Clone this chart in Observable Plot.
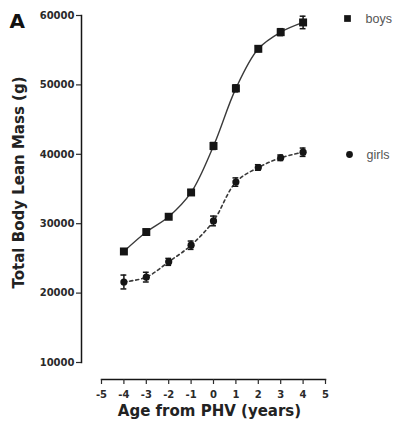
<!DOCTYPE html>
<html>
<head>
<meta charset="utf-8">
<script src="https://cdn.jsdelivr.net/npm/d3@7"></script>
<script src="https://cdn.jsdelivr.net/npm/@observablehq/plot@0.6"></script>
<style>
  html, body { margin: 0; padding: 0; background: #fff; }
</style>
</head>
<body>
<div id="chart"></div>
<script>
const ages = [-4, -3, -2, -1, 0, 1, 2, 3, 4];
const boysMean = [26000, 28800, 31000, 34500, 41200, 49500, 55200, 57600, 59000];
const boysErr  = [300, 300, 300, 400, 500, 500, 400, 500, 900];
const girlsMean = [21600, 22300, 24500, 26900, 30400, 36000, 38100, 39500, 40300];
const girlsErr  = [1000, 700, 500, 600, 700, 600, 400, 400, 600];
const xTicks = [-5, -4, -3, -2, -1, 0, 1, 2, 3, 4, 5];
const yTicks = [10000, 20000, 30000, 40000, 50000, 60000];
const seriesNames = ["boys", "girls"];

const boys = ages.map((a, i) => ({age: a, v: boysMean[i], e: boysErr[i]}));
const girls = ages.map((a, i) => ({age: a, v: girlsMean[i], e: girlsErr[i]}));

const ink = "#151515";
const lineInk = "#3a3a3a";
const fontW = "bold";

function errorMarks(data) {
  return [
    Plot.ruleX(data, {x: "age", y1: d => d.v - d.e, y2: d => d.v + d.e, stroke: ink, strokeWidth: 1.5}),
    Plot.ruleY(data, {y: d => d.v + d.e, x1: d => d.age - 0.13, x2: d => d.age + 0.13, stroke: ink, strokeWidth: 1.5}),
    Plot.ruleY(data, {y: d => d.v - d.e, x1: d => d.age - 0.13, x2: d => d.age + 0.13, stroke: ink, strokeWidth: 1.5})
  ];
}

const chart = Plot.plot({
  width: 395,
  height: 429,
  marginLeft: 81,
  marginTop: 15,
  marginBottom: 50,
  marginRight: 0,
  style: {fontFamily: "'DejaVu Sans', sans-serif", fontSize: "10px", color: "#2a2a2a", background: "#fff"},
  x: {domain: [-5, 5], range: [101, 325]},
  y: {domain: [10000, 60000], range: [362, 15]},
  marks: [
    // axis lines (offset, Prism style)
    Plot.frame({anchor: "left", insetBottom: 17, stroke: ink, strokeWidth: 1.5}),
    Plot.frame({anchor: "bottom", insetLeft: 20, insetRight: 70, stroke: ink, strokeWidth: 1.5}),
    Plot.axisY({ticks: yTicks, tickSize: 5, tickPadding: 2, tickFormat: d3.format("d"), label: null, fontWeight: fontW, strokeWidth: 1.2}),
    Plot.axisX({ticks: xTicks, tickSize: 5, tickPadding: 6, tickFormat: d => d < 0 ? "-" + Math.abs(d) : String(d), label: null, fontWeight: fontW, strokeWidth: 1.2}),
    // lines
    Plot.line(boys, {x: "age", y: "v", curve: "catmull-rom", stroke: lineInk, strokeWidth: 1.4}),
    Plot.line(girls, {x: "age", y: "v", curve: "catmull-rom", stroke: lineInk, strokeWidth: 1.6, strokeDasharray: "3,3"}),
    ...errorMarks(boys),
    ...errorMarks(girls),
    Plot.dot(boys, {x: "age", y: "v", symbol: "square", r: 4.5, fill: ink, stroke: "none"}),
    Plot.dot(girls, {x: "age", y: "v", symbol: "circle", r: 3.6, fill: ink, stroke: "none"}),
    // legend
    Plot.dot([seriesNames[0]], {frameAnchor: "top-right", dx: -48, dy: 3, symbol: "square", r: 3.8, fill: ink, stroke: "none"}),
    Plot.dot([seriesNames[1]], {frameAnchor: "top-right", dx: -46, dy: 139, symbol: "circle", r: 3.4, fill: ink, stroke: "none"}),
    Plot.text([seriesNames[0]], {text: d => d, frameAnchor: "top-right", dx: -30, dy: 3, textAnchor: "start", lineAnchor: "middle", fontFamily: "'Liberation Sans', Arial, sans-serif", fontSize: 12.5, fill: "#555"}),
    Plot.text([seriesNames[1]], {text: d => d, frameAnchor: "top-right", dx: -29, dy: 139, textAnchor: "start", lineAnchor: "middle", fontFamily: "'Liberation Sans', Arial, sans-serif", fontSize: 12.5, fill: "#555"}),
    // titles
    Plot.text(["Total Body Lean Mass (g)"], {text: d => d, frameAnchor: "left", dx: -62, dy: -15, rotate: -90, textAnchor: "middle", lineAnchor: "middle", fontSize: 15, fontWeight: "bold", fill: "#222"}),
    Plot.text(["Age from PHV (years)"], {text: d => d, frameAnchor: "bottom", dx: -29, dy: 32, textAnchor: "middle", lineAnchor: "middle", fontSize: 15, fontWeight: "bold", fill: "#222"}),
    Plot.text(["A"], {text: d => d, frameAnchor: "top-left", dx: -72, dy: 6.5, textAnchor: "start", lineAnchor: "middle", fontSize: 20, fontWeight: "bold", fill: "#111"})
  ]
});

document.getElementById("chart").appendChild(chart);
</script>
</body>
</html>
